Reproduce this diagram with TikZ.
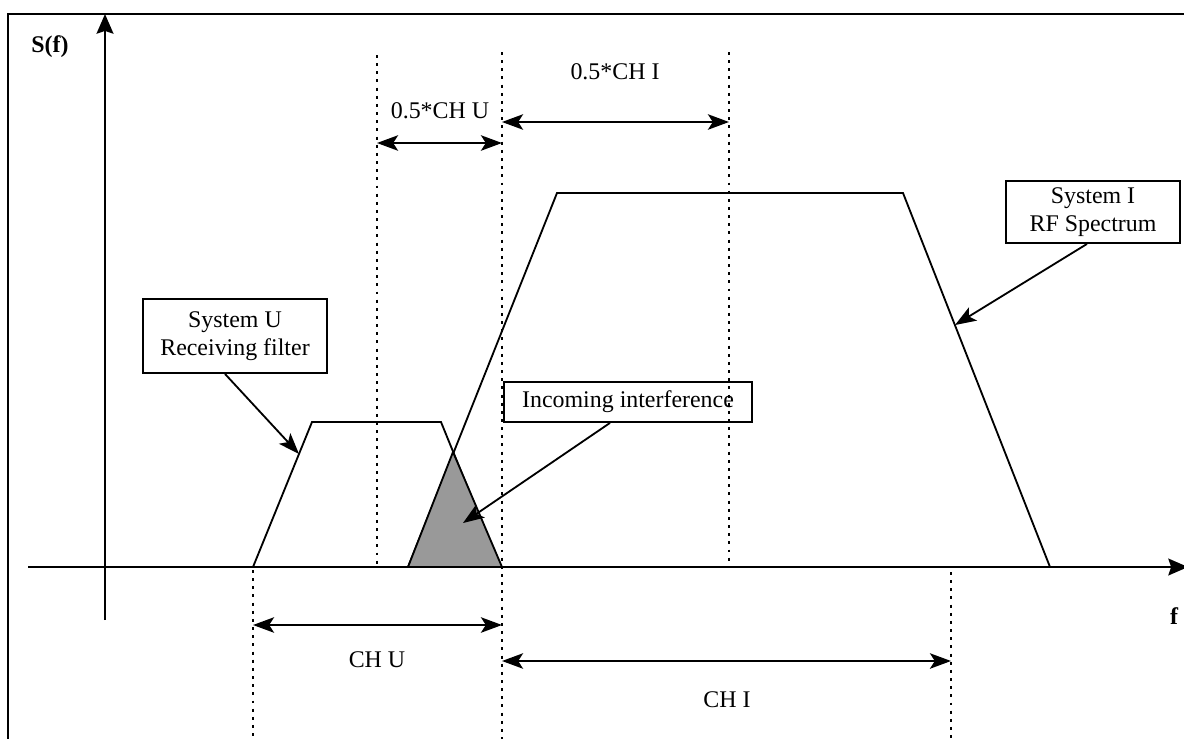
\documentclass[tikz,border=0pt]{standalone}
\usepackage{fontspec}
\setmainfont{Liberation Serif}
\usetikzlibrary{arrows.meta,positioning}
\definecolor{interf}{HTML}{999999}
\tikzset{
  lbl/.style   ={inner sep=0pt, font=\fontsize{17}{19.5}\selectfont},
  lblbox/.style={lbl, draw, line width=1.3pt, align=center},
  axis/.style  ={line width=1.5pt, -{Stealth[length=14pt,width=12pt,inset=2pt]}},
  curve/.style ={line width=1.3pt, line join=miter},
  guide/.style ={line width=2.1pt, dash pattern=on 2.1pt off 3.7pt},
  dim/.style   ={line width=1.4pt,
                 {Stealth[length=15pt,width=11pt,inset=3.5pt]}-{Stealth[length=15pt,width=11pt,inset=3.5pt]}},
  callout/.style={line width=1.3pt, -{Stealth[length=15pt,width=11pt,inset=3.5pt]}},
}
% guide lines: x / top / bottom (pixel units)
\def\guidelist{253/570/745, 377/55/568, 502/52/745, 729/52/562, 951/572/745}
\begin{document}
\begin{tikzpicture}[x=0.025cm,y=-0.025cm]
\useasboundingbox (0,0) rectangle (1184,738);
\clip (0,0) rectangle (1184,738);
% --- frame and axes ---
\draw[line width=1.5pt] (8,745) -- (8,14) -- (1190,14);
\coordinate (yfoot) at (105,620);
\coordinate (ytop)  at (105,14);
\coordinate (xfoot) at (28,567);
\coordinate (xtop)  at (1188,567);
\draw[axis] (yfoot) -- (ytop);
\draw[axis] (xfoot) -- (xtop);
\node[lbl,font=\fontsize{17}{19.5}\selectfont\bfseries] (sf) at (50,47) {S(f)};
\node[lbl,font=\fontsize{17}{19.5}\selectfont\bfseries] (fq) at (1174,616) {f};
% --- guides ---
\foreach \x/\ya/\yb in \guidelist
  {\draw[guide] (\x,\ya) -- (\x,\yb);}
% --- System U receiving filter ---
\coordinate (u1) at (253,567);
\coordinate (u2) at (312,422);
\coordinate (u3) at (441,422);
\coordinate (u4) at (500,567);
\draw[curve] (u1) -- (u2) -- (u3) -- (u4);
% --- System I spectrum ---
\coordinate (s1) at (408,567);
\coordinate (s2) at (557,193);
\coordinate (s3) at (903,193);
\coordinate (s4) at (1050,567);
\draw[curve] (s1) -- (s2) -- (s3) -- (s4);
% --- overlap ---
\coordinate (apex) at (453,452);
\draw[curve,fill=interf] (s1) -- (apex) -- (502,567) -- cycle;
% --- widths ---
\coordinate (hUa) at (377,143);
\coordinate (hUb) at (502,143);
\coordinate (hIa) at (502,122);
\coordinate (hIb) at (729,122);
\coordinate (cUa) at (253,625);
\coordinate (cUb) at (502,625);
\coordinate (cIa) at (502,661);
\coordinate (cIb) at (951,661);
\draw[dim] (hUa) -- (hUb);
\draw[dim] (hIa) -- (hIb);
\draw[dim] (cUa) -- (cUb);
\draw[dim] (cIa) -- (cIb);
\node[lbl] (halfU) at (440,111) {0.5*CH U};
\node[lbl] (halfI) at (615,72)  {0.5*CH I};
\node[lbl] (chU)   at (377,660) {CH U};
\node[lbl] (chI)   at (727,700) {CH I};
% --- callouts ---
\node[lblbox,minimum width=4.6cm,minimum height=1.85cm] (boxU) at (235,336)
  {System U\\Receiving filter};
\node[lblbox,minimum width=6.2cm,minimum height=1.0cm] (boxN) at (628,402)
  {Incoming interference};
\node[lblbox,minimum width=4.35cm,minimum height=1.55cm] (boxI) at (1093,212)
  {System I\\RF Spectrum};
\coordinate (tipU) at (299,454);
\coordinate (tipN) at (463,523);
\coordinate (tipI) at (955,325);
\draw[callout] ([xshift=-0.25cm]boxU.south) -- (tipU);
\draw[callout] ([xshift=-0.45cm]boxN.south) -- (tipN);
\draw[callout] ([xshift=-0.15cm]boxI.south) -- (tipI);
\end{tikzpicture}
\end{document}
